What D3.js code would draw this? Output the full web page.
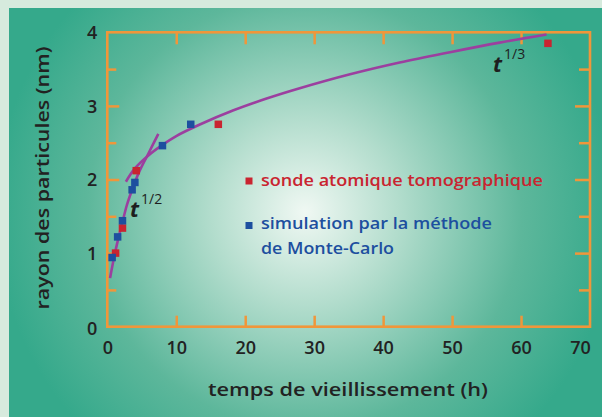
<!DOCTYPE html>
<html><head><meta charset="utf-8">
<script src="https://cdn.jsdelivr.net/npm/d3@7"></script>
<style>
html,body{margin:0;padding:0;background:#d6eadd;overflow:hidden}
svg{display:block}
text{font-family:"Open Sans",Lato,sans-serif}
</style></head>
<body>
<svg id="c" width="602" height="417"></svg>
<script>
// ---- data ----
const blueT = [0.7, 1.5, 2.2, 3.6, 4.0, 8.0, 12.1];
const blueR = [0.94, 1.22, 1.44, 1.86, 1.96, 2.46, 2.75];
const redT  = [1.2, 2.2, 4.2, 16.1, 63.9];
const redR  = [1.00, 1.34, 2.12, 2.75, 3.85];
const sqrtT = [0.4, 1.0, 1.6, 2.2, 2.8, 3.6, 4.6, 6.0, 7.4];
const sqrtR = [0.66, 0.95, 1.2, 1.42, 1.64, 1.86, 2.1, 2.36, 2.62];
const cubeT = [2.7, 4, 6, 8, 10, 13.5, 18.3, 23.1, 27.9, 35.2, 42.4, 49.7, 56.9, 63.7];
const cubeR = [1.97, 2.15, 2.33, 2.47, 2.59, 2.75, 2.94, 3.1, 3.24, 3.43, 3.59, 3.73, 3.86, 3.97];
const xTicks = [0, 10, 20, 30, 40, 50, 60, 70];
const yTicks = [0, 1, 2, 3, 4];
const yHalfTicks = [0.5, 1.5, 2.5, 3.5];
const legendRed = "sonde atomique tomographique";
const legendBlue = ["simulation par la méthode", "de Monte-Carlo"];
const xTitle = "temps de vieillissement (h)";
const yTitle = "rayon des particules (nm)";

const svg = d3.select("#c");
const defs = svg.append("defs");
const rg = defs.append("radialGradient").attr("id","bg")
  .attr("gradientUnits","userSpaceOnUse").attr("cx",305).attr("cy",212).attr("r",310);
[[0,"#f0f8f3"],[0.3,"#b3ddcd"],[0.7,"#5db79b"],[1,"#35a98b"]].forEach(s=>
  rg.append("stop").attr("offset",s[0]).attr("stop-color",s[1]));

svg.append("rect").attr("x",9).attr("y",8).attr("width",593).attr("height",409).attr("fill","url(#bg)");

const L=107.3, R=590, T=32.3, B=326.7;
const x = d3.scaleLinear().domain([0,70]).range([L,R]);
const y = d3.scaleLinear().domain([0,4]).range([B,T]);
const orange="#f0963a";
const ink="#222";

function styleAxis(g){
  g.select(".domain").remove();
  g.selectAll(".tick line").attr("stroke",orange).attr("stroke-width",2.5);
}
// ticks inward
svg.append("g").attr("transform",`translate(0,${B})`)
  .call(d3.axisBottom(x).tickValues(xTicks.slice(1,-1)).tickSize(-11).tickFormat(""))
  .call(styleAxis);
svg.append("g").attr("transform",`translate(0,${T})`)
  .call(d3.axisTop(x).tickValues(xTicks.slice(1,-1)).tickSize(-12).tickFormat(""))
  .call(styleAxis);
svg.append("g").attr("transform",`translate(${L},0)`)
  .call(d3.axisLeft(y).tickValues(yTicks.slice(1,-1)).tickSize(-12).tickFormat(""))
  .call(styleAxis);
svg.append("g").attr("transform",`translate(${L},0)`)
  .call(d3.axisLeft(y).tickValues(yHalfTicks).tickSize(-9).tickFormat(""))
  .call(styleAxis);
svg.append("g").attr("transform",`translate(${R},0)`)
  .call(d3.axisRight(y).tickValues(yTicks.slice(1,-1)).tickSize(-15).tickFormat(""))
  .call(styleAxis);
svg.append("g").attr("transform",`translate(${R},0)`)
  .call(d3.axisRight(y).tickValues(yHalfTicks).tickSize(-11).tickFormat(""))
  .call(styleAxis);

svg.append("rect").attr("x",L).attr("y",T).attr("width",R-L).attr("height",B-T)
  .attr("fill","none").attr("stroke",orange).attr("stroke-width",2.6);

// tick labels
const xl = svg.append("g").attr("transform",`translate(0,${B})`)
  .call(d3.axisBottom(x).tickValues(xTicks).tickSize(0).tickPadding(15).tickFormat(d3.format("d")));
xl.select(".domain").remove();
xl.selectAll("text").attr("font-size",18).attr("fill",ink).attr("font-family","Open Sans").attr("font-weight",600)
  .attr("dx",(d)=> d===70 ? -10 : 0);
const yl = svg.append("g").attr("transform",`translate(${L},0)`)
  .call(d3.axisLeft(y).tickValues(yTicks).tickSize(0).tickPadding(10).tickFormat(d3.format("d")));
yl.select(".domain").remove();
yl.selectAll("text").attr("font-size",18).attr("fill",ink).attr("font-family","Open Sans").attr("font-weight",600)
  .attr("dy",(d)=> d===0 ? "0.45em" : "0.35em");

// axis titles
svg.append("text").attr("x",348).attr("y",396).attr("text-anchor","middle")
  .attr("font-size",18.5).attr("font-weight",600).attr("fill",ink)
  .attr("textLength",280).attr("lengthAdjust","spacingAndGlyphs").text(xTitle);
svg.append("text").attr("transform","translate(49,178) rotate(-90)").attr("text-anchor","middle")
  .attr("font-size",18.5).attr("font-weight",600).attr("fill",ink)
  .attr("textLength",263).attr("lengthAdjust","spacingAndGlyphs").text(yTitle);

// curves
const line = d3.line().x(d=>x(d[0])).y(d=>y(d[1])).curve(d3.curveCatmullRom.alpha(0.5));
const purple="#9c3f9f";
svg.append("path").datum(sqrtT.map((t,i)=>[t,sqrtR[i]])).attr("d",line)
  .attr("fill","none").attr("stroke",purple).attr("stroke-width",2.6);
svg.append("path").datum(cubeT.map((t,i)=>[t,cubeR[i]])).attr("d",line)
  .attr("fill","none").attr("stroke",purple).attr("stroke-width",2.6);

// points
const red="#c92430", blue="#1d4f9f", S=7.5;
svg.append("g").selectAll("rect").data(redT.map((t,i)=>[t,redR[i]])).join("rect")
  .attr("x",d=>x(d[0])-S/2).attr("y",d=>y(d[1])-S/2).attr("width",S).attr("height",S).attr("fill",red);
svg.append("g").selectAll("rect").data(blueT.map((t,i)=>[t,blueR[i]])).join("rect")
  .attr("x",d=>x(d[0])-S/2).attr("y",d=>y(d[1])-S/2).attr("width",S).attr("height",S).attr("fill",blue);

// exponent labels
function expLabel(px,py,sup){
  const t = svg.append("text").attr("x",px).attr("y",py).attr("fill","#1e1e1e");
  t.append("tspan").attr("font-size",22).attr("font-style","italic").attr("font-weight",700).text("t");
  t.append("tspan").attr("font-size",14).attr("font-weight",500).attr("dx",2).attr("dy",-13).text(sup);
}
expLabel(130,217,"1/2");
expLabel(493,72,"1/3");

// legend
const lg = [
  {txt:legendRed, col:red, sq:181, base:186, len:282},
  {txt:legendBlue[0], col:blue, sq:225.5, base:229, len:231},
  {txt:legendBlue[1], col:blue, sq:null, base:254, len:133}
];
lg.forEach(d=>{
  if(d.sq!==null) svg.append("rect").attr("x",245.5).attr("y",d.sq-3.5).attr("width",7).attr("height",7).attr("fill",d.col);
  svg.append("text").attr("x",261).attr("y",d.base).attr("font-size",17).attr("font-weight",600)
    .attr("fill",d.col).attr("textLength",d.len).attr("lengthAdjust","spacingAndGlyphs").text(d.txt);
});
</script>
</body></html>
